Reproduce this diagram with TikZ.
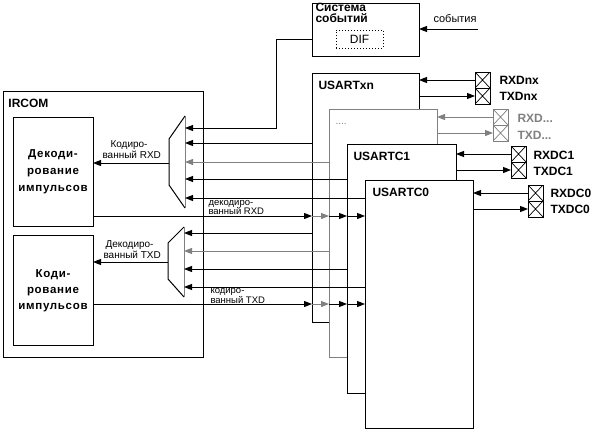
\documentclass[tikz,border=0pt]{standalone}
\usepackage{fontspec}
\setmainfont{Liberation Sans}
\usetikzlibrary{arrows.meta}
\definecolor{mg}{RGB}{128,128,128}
\begin{document}
\begin{tikzpicture}[x=1pt,y=-1pt,line width=1pt,
  box/.style={draw,fill=white,inner sep=0,outer sep=0,anchor=north west},
  pin/.style={draw,fill=white,inner sep=0,outer sep=0,anchor=north west,minimum width=15,minimum height=16,
    path picture={\draw[line width=0.7pt] (path picture bounding box.north west)--(path picture bounding box.south east)
      (path picture bounding box.north east)--(path picture bounding box.south west);}},
  arr/.style={-{Triangle[length=8pt,width=6pt]}},
  ttl/.style={font=\fontsize{12}{12}\selectfont\bfseries,inner sep=0,anchor=base west},
  btx/.style={font=\fontsize{11.5}{12}\selectfont\bfseries\addfontfeature{LetterSpace=6},inner sep=0,anchor=base},
  lbl/.style={font=\fontsize{10}{10}\selectfont,inner sep=0,anchor=base west},
  sml/.style={font=\fontsize{9.5}{9.5}\selectfont,inner sep=0,anchor=base west}]
\useasboundingbox (0,0) rectangle (594,431);

% IRCOM
\node[box,minimum width=200,minimum height=266] (ircom) at (3,91) {};
\node[ttl] (irt) at (8,107) {IRCOM};
\node[box,minimum width=80,minimum height=109] (dec) at (13,117) {};
\node[box,minimum width=80,minimum height=110] (cod) at (13,235) {};
\node[btx] (d1) at (53,157) {Декоди-};
\node[btx] (d2) at (53,174) {рование};
\node[btx] (d3) at (53,191) {импульсов};
\node[btx] (c1) at (53,277) {Коди-};
\node[btx] (c2) at (53,293) {рование};
\node[btx] (c3) at (53,309) {импульсов};

% event system
\node[box,minimum width=107,minimum height=53] (sys) at (312,3) {};
\node[ttl] (s1) at (315,12) {Система};
\node[ttl] (s2) at (315,23) {событий};
\node[box,dotted,minimum width=47,minimum height=18] (dif) at (336,30) {};
\node[font=\fontsize{12}{12}\selectfont,inner sep=0] (dift) at (dif.center) {DIF};
\node[lbl,font=\fontsize{11}{11}\selectfont] (evt) at (433,22) {события};
\coordinate (evs) at (478,29);
\draw[arr] (evs) -- (evs -| sys.east);

% USART boxes
\node[box,minimum width=107,minimum height=249] (uxn) at (312,73) {};
\node[ttl] (uxnt) at (318,89) {USARTxn};
\node[box,draw=mg,minimum width=108,minimum height=248] (ugr) at (329,109) {};
\node[ttl,mg,font=\fontsize{10}{10}\selectfont] (ugrt) at (335,124) {....};
\node[box,minimum width=109,minimum height=249] (uc1) at (347,144) {};
\node[ttl] (uc1t) at (353,160) {USARTC1};
\node[box,minimum width=108,minimum height=248] (uc0) at (365,180) {};
\node[ttl] (uc0t) at (372,196) {USARTC0};

% pins
\node[pin] (prxn) at (475,72) {};
\node[pin] (ptxn) at (475,88) {};
\node[pin,draw=mg,path picture={\draw[mg,line width=0.7pt] (path picture bounding box.north west)--(path picture bounding box.south east)
      (path picture bounding box.north east)--(path picture bounding box.south west);}] (prxg) at (493,109) {};
\node[pin,draw=mg,path picture={\draw[mg,line width=0.7pt] (path picture bounding box.north west)--(path picture bounding box.south east)
      (path picture bounding box.north east)--(path picture bounding box.south west);}] (ptxg) at (493,125) {};
\node[pin] (prx1) at (511,146) {};
\node[pin] (ptx1) at (511,162) {};
\node[pin] (prx0) at (528,185) {};
\node[pin] (ptx0) at (528,201) {};
\node[ttl] (lrxn) at (499,84) {RXDnx};
\node[ttl] (ltxn) at (499,100) {TXDnx};
\node[ttl,mg] (lrxg) at (517,122) {RXD...};
\node[ttl,mg] (ltxg) at (517,139) {TXD...};
\node[ttl] (lrx1) at (533,159) {RXDC1};
\node[ttl] (ltx1) at (533,175) {TXDC1};
\node[ttl] (lrx0) at (550,197) {RXDC0};
\node[ttl] (ltx0) at (550,213) {TXDC0};

\draw[arr] (prxn.west) -- (prxn.west -| uxn.east);
\draw[arr] (ptxn.west -| uxn.east) -- (ptxn.west);
\draw[arr,mg] (prxg.west) -- (prxg.west -| ugr.east);
\draw[arr,mg] (ptxg.west -| ugr.east) -- (ptxg.west);
\draw[arr] (prx1.west) -- (prx1.west -| uc1.east);
\draw[arr] (ptx1.west -| uc1.east) -- (ptx1.west);
\draw[arr] (prx0.west) -- (prx0.west -| uc0.east);
\draw[arr] (ptx0.west -| uc0.east) -- (ptx0.west);

% mux 1
\coordinate (m1t) at (185,116);
\coordinate (m1b) at (185,208);
\draw (m1t) -- (169,139) -- (169,185) -- (m1b);
\draw[mg] (m1t) -- (m1b);
\coordinate (sysout) at (312,39);
\coordinate (m1a) at (185,128);
\coordinate (m1i2) at (185,143);
\coordinate (m1i3) at (185,162);
\coordinate (m1i4) at (185,179);
\coordinate (m1i5) at (185,198);
\coordinate (m1o) at (169,163);
\draw[arr] (sysout) -- (276,39) -- (276,128) -- (m1a);
\draw[arr] (m1i2 -| uxn.west) -- (m1i2);
\draw[arr,mg] (m1i3 -| ugr.west) -- (m1i3);
\draw[arr] (m1i4 -| uc1.west) -- (m1i4);
\draw[arr] (m1i5 -| uc0.west) -- (m1i5);
\draw[arr] (m1o) -- (m1o -| dec.east);
\node[lbl] (l1a) at (110,147) {Кодиро-};
\node[lbl] (l1b) at (102,158) {ванный RXD};

% decoded RXD
\coordinate (drx) at (93,216);
\draw[arr] (drx) -- (drx -| uxn.west);
\draw[arr,mg] (drx -| uxn.west) -- (drx -| ugr.west);
\draw[arr] (drx -| ugr.west) -- (drx -| uc1.west);
\draw[arr] (drx -| uc1.west) -- (drx -| uc0.west);
\node[sml] (l2a) at (208,205) {декодиро-};
\node[sml] (l2b) at (208,214) {ванный RXD};

% mux 2
\coordinate (m2t) at (184,227);
\coordinate (m2b) at (184,297);
\draw (m2t) -- (168,243) -- (168,279) -- (m2b);
\draw[mg] (m2t) -- (m2b);
\coordinate (m2i1) at (184,233);
\coordinate (m2i2) at (184,251);
\coordinate (m2i3) at (184,269);
\coordinate (m2i4) at (184,287);
\coordinate (m2o) at (168,262);
\draw[arr] (m2i1 -| uxn.west) -- (m2i1);
\draw[arr,mg] (m2i2 -| ugr.west) -- (m2i2);
\draw[arr] (m2i3 -| uc1.west) -- (m2i3);
\draw[arr] (m2i4 -| uc0.west) -- (m2i4);
\draw[arr] (m2o) -- (m2o -| cod.east);
\node[lbl] (l3a) at (105,247) {Декодиро-};
\node[lbl] (l3b) at (103,258) {ванный TXD};

% coded TXD
\coordinate (ctx) at (93,304);
\draw[arr] (ctx) -- (ctx -| uxn.west);
\draw[arr,mg] (ctx -| uxn.west) -- (ctx -| ugr.west);
\draw[arr] (ctx -| ugr.west) -- (ctx -| uc1.west);
\draw[arr] (ctx -| uc1.west) -- (ctx -| uc0.west);
\node[sml] (l4a) at (210,293) {кодиро-};
\node[sml] (l4b) at (210,303) {ванный TXD};
\end{tikzpicture}
\end{document}
